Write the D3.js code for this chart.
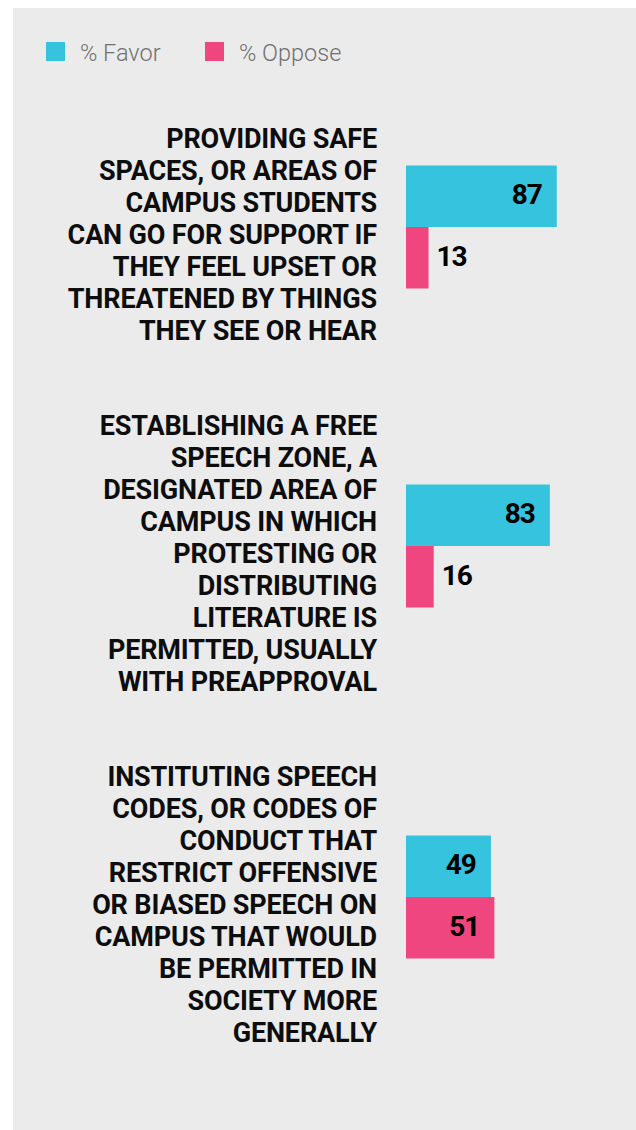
<!DOCTYPE html>
<html>
<head>
<meta charset="utf-8">
<script src="https://cdn.jsdelivr.net/npm/d3@7"></script>
<style>
  html, body { margin: 0; padding: 0; background: #ffffff; }
  svg { display: block; }
</style>
</head>
<body>
<svg id="chart" width="636" height="1130"></svg>
<script>
// ---- DATA ----
const categories = [
  ["PROVIDING SAFE", "SPACES, OR AREAS OF", "CAMPUS STUDENTS", "CAN GO FOR SUPPORT IF", "THEY FEEL UPSET OR", "THREATENED BY THINGS", "THEY SEE OR HEAR"],
  ["ESTABLISHING A FREE", "SPEECH ZONE, A", "DESIGNATED AREA OF", "CAMPUS IN WHICH", "PROTESTING OR", "DISTRIBUTING", "LITERATURE IS", "PERMITTED, USUALLY", "WITH PREAPPROVAL"],
  ["INSTITUTING SPEECH", "CODES, OR CODES OF", "CONDUCT THAT", "RESTRICT OFFENSIVE", "OR BIASED SPEECH ON", "CAMPUS THAT WOULD", "BE PERMITTED IN", "SOCIETY MORE", "GENERALLY"]
];
const favorValues = [87, 83, 49];
const opposeValues = [13, 16, 51];
const seriesNames = ["% Favor", "% Oppose"];
const seriesKeys = ["favor", "oppose"];

// ---- STYLE / LAYOUT ----
const colors = { favor: "#36c3de", oppose: "#f04680" };
const W = 636, H = 1130;
const lineH = 32;
const rowGap = 63;
const firstBaseline0 = 147.5;
const barBlockH = 123;

const svg = d3.select("#chart");

// panel background
svg.append("rect").attr("x", 13).attr("y", 8).attr("width", W - 13).attr("height", H - 8).attr("fill", "#ebebeb");

// legend
const legend = svg.append("g");
const legendX = [46, 205];
seriesNames.forEach((name, i) => {
  const g = legend.append("g").attr("transform", `translate(${legendX[i]},42)`);
  g.append("rect").attr("width", 19).attr("height", 19).attr("fill", colors[seriesKeys[i]]);
  g.append("text").attr("x", 34).attr("y", 18.5)
    .attr("font-family", "Roboto, 'Open Sans', sans-serif")
    .attr("font-weight", 300)
    .attr("font-size", 23.5)
    .attr("fill", "#707070")
    .text(name);
});

// rows layout from line counts
const data = categories.map((lines, i) => ({
  lines, favor: favorValues[i], oppose: opposeValues[i]
}));
let fb = firstBaseline0;
data.forEach((d, i) => {
  d.firstBaseline = fb;
  d.barCenter = fb + (d.lines.length - 1) * lineH / 2 - 16.5;
  fb += d.lines.length * lineH + rowGap;
});

const x = d3.scaleLinear().domain([0, 100]).range([406, 406 + 173.3]);
const ySeries = d3.scaleBand().domain(seriesKeys).range([0, barBlockH]).padding(0);

const rows = svg.selectAll("g.row").data(data).join("g").attr("class", "row");

// category labels
rows.append("text")
  .attr("text-anchor", "end")
  .attr("font-family", "Roboto, sans-serif")
  .attr("font-weight", 700)
  .attr("font-size", 27)
  .attr("letter-spacing", -0.15)
  .attr("fill", "#0d0d0d")
  .selectAll("tspan")
  .data(d => d.lines.map((l, j) => ({ l, y: d.firstBaseline + j * lineH })))
  .join("tspan")
  .attr("x", 377)
  .attr("y", t => t.y)
  .text(t => t.l);

// bars
rows.each(function(d) {
  const g = d3.select(this);
  const top = d.barCenter - barBlockH / 2;
  seriesKeys.forEach(k => {
    const v = d[k];
    const y0 = top + ySeries(k);
    g.append("rect")
      .attr("x", x(0))
      .attr("y", y0)
      .attr("width", x(v) - x(0))
      .attr("height", ySeries.bandwidth())
      .attr("fill", colors[k]);
    const inside = v >= 30;
    g.append("text")
      .attr("x", inside ? x(v) - 15 : x(v) + 8)
      .attr("y", y0 + ySeries.bandwidth() / 2 + 8)
      .attr("text-anchor", inside ? "end" : "start")
      .attr("font-family", "Roboto, sans-serif")
      .attr("font-weight", 700)
      .attr("font-size", 28)
      .attr("letter-spacing", -1)
      .attr("fill", "#000")
      .text(v);
  });
});
</script>
</body>
</html>
